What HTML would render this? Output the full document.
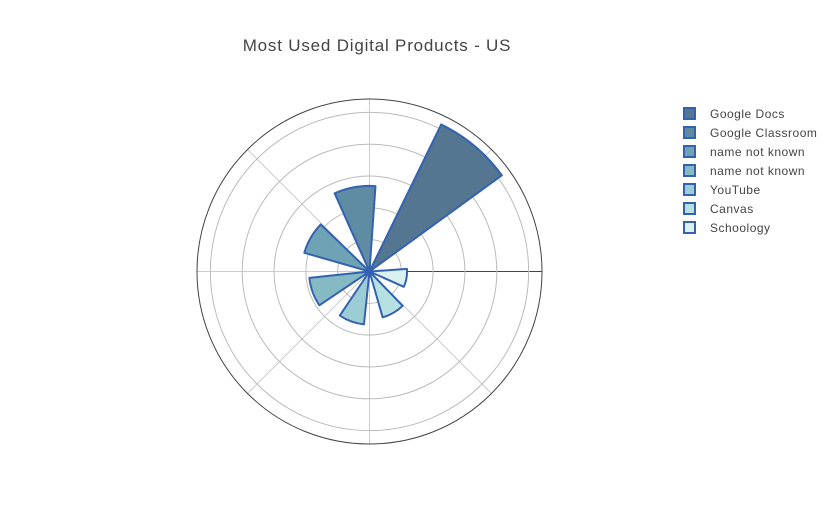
<!DOCTYPE html>
<html><head><meta charset="utf-8"><style>
body{margin:0;background:#fff;}
svg{display:block;font-family:"Liberation Sans",Arial,sans-serif;}
</style></head><body>
<svg id="chart" width="836" height="525" viewBox="0 0 836 525">
<text x="377" y="51" text-anchor="middle" font-size="17" letter-spacing="0.8" fill="#444">Most Used Digital Products - US</text>
<g id="grid"></g>
<g id="bars"></g>
<g id="legend"></g>
</svg>
<script>
const names = ["Google Docs","Google Classroom","name not known","name not known","YouTube","Canvas","Schoology"];
const thetas = [50,100,150,200,250,300,350];
const values = [5.14,2.69,2.13,1.9,1.67,1.5,1.18];
const gridTicks = [1,2,3,4,5];
const fills = ["#557690","#5f8ca2","#6ea3b5","#85b9c4","#9ccdd4","#b7e1e1","#daf1ef"];
const cx=369.5, cy=271.5, R=172.5, rMax=5.42, width=28;
const NS="http://www.w3.org/2000/svg";
const rs = v => v/rMax*R;
const pt = (r,deg)=>[cx+r*Math.cos(deg*Math.PI/180), cy-r*Math.sin(deg*Math.PI/180)];
const grid=document.getElementById('grid');
function mk(tag,attrs,parent){const e=document.createElementNS(NS,tag);for(const k in attrs)e.setAttribute(k,attrs[k]);parent.appendChild(e);return e;}
for(let a=0;a<360;a+=45){
  const [x,y]=pt(R,a);
  const l=mk('line',{x1:cx,y1:cy,x2:x,y2:y,stroke:a===0?'#444':'#ccc','stroke-width':1},grid);
  
  
}
gridTicks.forEach(t=>{
  const c=mk('circle',{cx:cx,cy:cy,r:rs(t),fill:'none',stroke:'#bbb','stroke-width':1},grid);
  
  
});
const outer=mk('circle',{cx:cx,cy:cy,r:R,fill:'none',stroke:'#444','stroke-width':1},grid);


const bars=document.getElementById('bars');
values.forEach((v,i)=>{
  const r=rs(v), a1=thetas[i]-width/2, a2=thetas[i]+width/2;
  const [x1,y1]=pt(r,a1), [x2,y2]=pt(r,a2);
  const p=mk('path',{d:`M${cx},${cy} L${x1},${y1} A${r},${r} 0 0 0 ${x2},${y2} Z`,fill:fills[i],stroke:'#3462b2','stroke-width':2,'stroke-linejoin':'round'},bars);
  
  
});
const lg=document.getElementById('legend');
names.forEach((n,i)=>{
  const y=114+i*19;
  const g=mk('g',{},lg);
  
  
  mk('rect',{x:684,y:y-6,width:11,height:11,fill:fills[i],stroke:'#3462b2','stroke-width':2},g);
  const t=mk('text',{x:710,y:y+4,'font-size':12,'letter-spacing':0.5,fill:'#444'},g);
  t.textContent=n;
});
</script>
</body></html>
